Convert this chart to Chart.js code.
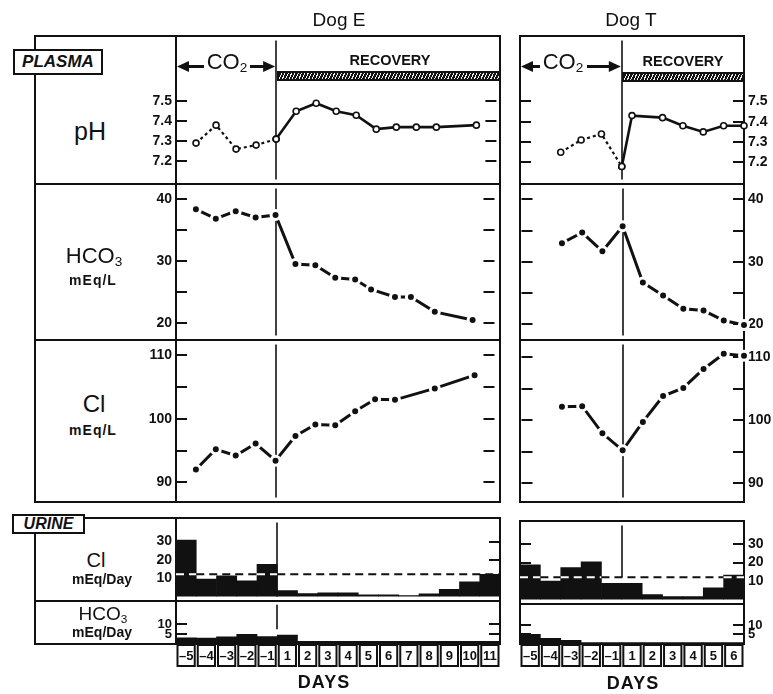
<!DOCTYPE html>
<html>
<head>
<meta charset="utf-8">
<title>Dog E / Dog T</title>
<script src="https://cdn.jsdelivr.net/npm/chart.js@4.4.1/dist/chart.umd.min.js"></script>
<style>
  body { margin: 0; background: #fff; }
  #fig { position: relative; width: 773px; height: 694px; overflow: hidden;
         font-family: 'Liberation Sans', Arial, Helvetica, sans-serif; color: #111; }
  .ln { position: absolute; background: #111; }
  canvas { position: absolute; }
  .t { position: absolute; transform: translate(-50%, -50%); white-space: nowrap; line-height: 1; }
  .tag { position: absolute; border: 2px solid #111; background: #fff; box-sizing: border-box;
         font-weight: bold; font-style: italic; text-align: center; }
  .hatch { position: absolute; box-sizing: border-box; border: 2px solid #111;
           background: repeating-linear-gradient(115deg, #111 0px, #111 2px, #eee 2px, #eee 3px); }
  sub { font-size: 62%; vertical-align: baseline; position: relative; top: 0.25em; }
</style>
</head>
<body>
<div id="fig"></div>
<script>
// ---- data ----
const daysE = ['-5', '-4', '-3', '-2', '-1', '1', '2', '3', '4', '5', '6', '7', '8', '9', '10', '11'];
const daysT = ['-5', '-4', '-3', '-2', '-1', '1', '2', '3', '4', '5', '6'];
const co2End = 5; // end of CO2 exposure (after day -1)

// plasma pH (t = position in day cells from the start of day -5)
const phPreE_t = [1, 2, 3, 4, 5];
const phPreE = [7.29, 7.38, 7.26, 7.28, 7.31];
const phRecE_t = [5, 6, 7, 8, 9, 10, 11, 12, 13, 15];
const phRecE = [7.31, 7.45, 7.49, 7.45, 7.43, 7.36, 7.37, 7.37, 7.37, 7.38];
const phPreT_t = [2, 3, 4, 5];
const phPreT = [7.25, 7.31, 7.34, 7.18];
const phRecT_t = [5, 5.5, 7, 8, 9, 10, 11];
const phRecT = [7.18, 7.43, 7.42, 7.38, 7.35, 7.38, 7.38];

// plasma HCO3, mEq/L
const hco3E_t = [1, 2, 3, 4, 5, 6, 7, 8, 9, 9.8, 11, 11.8, 13, 14.9];
const hco3E = [38.3, 36.8, 38.0, 37.0, 37.4, 29.5, 29.3, 27.3, 27.0, 25.4, 24.2, 24.2, 21.8, 20.5];
const hco3T_t = [2, 3, 4, 5, 6, 7, 8, 9, 10, 11];
const hco3T = [33.0, 34.7, 31.7, 35.7, 26.7, 24.6, 22.5, 22.2, 20.6, 19.9];

// plasma Cl, mEq/L
const clE_t = [1, 2, 3, 4, 5, 6, 7, 8, 9, 10, 11, 13, 15];
const clE = [92.0, 95.2, 94.2, 96.1, 93.4, 97.3, 99.1, 99.0, 101.2, 103.1, 103.0, 104.8, 106.9];
const clT_t = [2, 3, 4, 5, 6, 7, 8, 9, 10, 11];
const clT = [102.1, 102.2, 97.9, 95.2, 99.7, 103.8, 105.1, 108.1, 110.5, 110.2];

// urine, mEq/Day per day
const urClE = [30.9, 9.5, 11.4, 8.6, 17.6, 3.3, 1.6, 2.0, 2.0, 1.0, 1.0, 0.5, 1.5, 4.0, 8.1, 12.2];
const urClT = [18.8, 10.0, 17.2, 20.4, 8.8, 8.8, 2.7, 1.6, 1.6, 6.3, 13.2];
const urClRefE = 12.2;
const urClRefT = 12.0;
const urHco3E = [3.1, 3.0, 3.6, 4.9, 3.8, 4.6, 1.3, 1.3, 1.3, 1.3, 1.3, 1.3, 1.3, 1.3, 1.3, 1.3];
const urHco3T = [5.1, 3.0, 1.9, 0.7, 0.7, 0.7, 0.7, 0.7, 0.7, 0.7, 0.7];

// axis ticks
const phTicks = [7.2, 7.3, 7.4, 7.5];
const hco3Ticks = [20, 25, 30, 35, 40];
const hco3Labels = [20, 30, 40];
const clTicks = [90, 95, 100, 105, 110];
const clLabels = [90, 100, 110];
const urClTicks = [10, 20, 30];
const urHco3Ticks = [5, 10];

// ---- page furniture ----
const fig = document.getElementById('fig');
const FONT = "'Liberation Sans', Arial, Helvetica, sans-serif";
Chart.defaults.font.family = FONT;
Chart.defaults.color = '#111';

function line(x1, y1, x2, y2) {
  const d = document.createElement('div');
  d.className = 'ln';
  d.style.left = (x1 - 1) + 'px';
  d.style.top = (y1 - 1) + 'px';
  d.style.width = (x2 - x1 + 2) + 'px';
  d.style.height = (y2 - y1 + 2) + 'px';
  fig.appendChild(d);
}
function text(html, x, y, style) {
  const d = document.createElement('div');
  d.className = 't';
  d.innerHTML = html;
  d.style.left = x + 'px';
  d.style.top = y + 'px';
  Object.assign(d.style, style || {});
  fig.appendChild(d);
}
function addCanvas(left, top, w, h) {
  const c = document.createElement('canvas');
  c.width = w; c.height = h;
  c.style.left = left + 'px'; c.style.top = top + 'px';
  fig.appendChild(c);
  return c;
}

// plasma frame
[36, 184, 340, 502].forEach(y => { line(35, y, 500, y); line(520, y, 744, y); });
[35, 176, 500].forEach(x => line(x, 36, x, 502));
[520, 744].forEach(x => line(x, 36, x, 502));
// urine frame
[518, 601, 644].forEach(y => line(35, y, 500, y));
[35, 176, 500].forEach(x => line(x, 518, x, 644));
[521, 604, 644].forEach(y => line(520, y, 744, y));
[520, 744].forEach(x => line(x, 521, x, 644));

// ---- chart helpers ----
const framePlugin = {
  id: 'frame',
  beforeDatasetsDraw(chart, args, opts) {
    const { ctx, chartArea: a, scales: { x, y } } = chart;
    ctx.save();
    ctx.strokeStyle = '#111';
    ctx.fillStyle = '#111';
    ctx.lineWidth = 2;
    ctx.beginPath();
    for (const t of y.ticks) {
      const py = Math.round(y.getPixelForValue(t.value));
      ctx.moveTo(a.left, py); ctx.lineTo(a.left + 11, py);
      ctx.moveTo(a.right - 11, py); ctx.lineTo(a.right, py);
    }
    ctx.stroke();
    if (opts.divider) {
      const px = Math.round(x.getPixelForValue(co2End));
      const bot = opts.dividerTo != null ? y.getPixelForValue(opts.dividerTo) : a.bottom;
      ctx.lineWidth = 1.6;
      ctx.beginPath(); ctx.moveTo(px, a.top); ctx.lineTo(px, bot); ctx.stroke();
    }
    if (opts.arrow) {
      const ay = a.top + opts.arrow.dy;
      const px = x.getPixelForValue(co2End);
      const l = a.left + opts.arrow.gap[0], r = a.left + opts.arrow.gap[1];
      ctx.lineWidth = 3;
      ctx.beginPath();
      ctx.moveTo(a.left + 8, ay); ctx.lineTo(l, ay);
      ctx.moveTo(r, ay); ctx.lineTo(px - 8, ay);
      ctx.stroke();
      const head = (tip, dir) => {
        ctx.beginPath();
        ctx.moveTo(tip, ay);
        ctx.lineTo(tip + dir * 12, ay - 5.5);
        ctx.lineTo(tip + dir * 12, ay + 5.5);
        ctx.closePath(); ctx.fill();
      };
      head(a.left + 1, 1);
      head(px - 1, -1);
    }
    ctx.restore();
  }
};

const dayCells = {
  id: 'dayCells',
  afterDraw(chart) {
    const { ctx, chartArea: a, scales: { x } } = chart;
    ctx.save();
    ctx.strokeStyle = '#111';
    ctx.lineWidth = 2;
    for (let i = 0; i < x.max; i++) {
      const l = x.getPixelForValue(i), r = x.getPixelForValue(i + 1);
      ctx.strokeRect(l + 1.5, a.bottom + 1, r - l - 3, 21);
    }
    ctx.restore();
  }
};

const dogE = { left: 130, width: 372, padL: 0, padR: 2, yPos: 'left', yW: 46, days: daysE };
const dogT = { left: 514, width: 259, padL: 6, padR: 0, yPos: 'right', yW: 29, days: daysT };

function yAxis(dog, min, max, ticks, labels, fmt, size) {
  return {
    position: dog.yPos, min, max,
    afterBuildTicks: s => { s.ticks = ticks.map(v => ({ value: v })); },
    afterFit: s => { s.width = dog.yW; },
    grid: { display: false, drawTicks: false }, border: { display: false },
    ticks: {
      autoSkip: false, padding: 4, color: '#111',
      font: { size: size || 14, weight: 'bold' },
      callback: v => labels.includes(v) ? fmt(v) : ''
    }
  };
}

const pts = (ts, vs) => ts.map((t, i) => ({ x: t, y: vs[i] }));
const dotLine = { borderColor: '#111', borderWidth: 3, pointRadius: 4.5, pointBackgroundColor: '#111',
                  pointBorderColor: '#fff', pointBorderWidth: 3, clip: false };
const phPre = { borderColor: '#111', borderWidth: 2.2, borderDash: [3, 3], pointRadius: 3,
                pointBackgroundColor: '#fff', pointBorderColor: '#111', pointBorderWidth: 1.6, clip: false };
const phRec = { borderColor: '#111', borderWidth: 2.6, pointRadius: 3,
                pointBackgroundColor: '#fff', pointBorderColor: '#111', pointBorderWidth: 1.6, clip: false };

function plasmaChart(dog, top, bottom, yOpts, datasets, frame) {
  const c = addCanvas(dog.left, top - 8, dog.width, bottom - top + 16);
  return new Chart(c, {
    type: 'line',
    data: { datasets },
    options: {
      responsive: false, animation: false, events: [],
      layout: { padding: { left: dog.padL, right: dog.padR, top: 8, bottom: 8 } },
      scales: {
        x: { type: 'linear', min: 0, max: dog.days.length, display: false, offset: false },
        y: yOpts
      },
      plugins: { legend: { display: false }, tooltip: { enabled: false }, frame }
    },
    plugins: [framePlugin]
  });
}

function urineChart(dog, top, bottom, yOpts, bars, ref, frame, withDays) {
  const c = addCanvas(dog.left, top - 8, dog.width, bottom - top + 8 + (withDays ? 26 : 8));
  const datasets = [{
    type: 'bar', data: bars.map((v, i) => ({ x: i + 0.5, y: v })),
    backgroundColor: '#111', borderWidth: 0, barPercentage: 1, categoryPercentage: 1, order: 1
  }];
  if (ref != null) {
    datasets.push({
      type: 'line', data: dog.days.concat(['']).map((d, i) => ({ x: i, y: ref })),
      borderWidth: 2, borderDash: [8, 5], pointRadius: 0, order: 0, clip: false,
      segment: { borderColor: s => bars[s.p0DataIndex] > ref ? '#fff' : '#111' }
    });
  }
  const xAxis = {
    type: 'linear', min: 0, max: dog.days.length, offset: false, display: !!withDays,
    position: 'bottom', grid: { display: false, drawTicks: false }, border: { display: false }
  };
  if (withDays) {
    Object.assign(xAxis, {
      afterBuildTicks: s => { s.ticks = dog.days.map((d, i) => ({ value: i + 0.5 })); },
      afterFit: s => { s.height = 26; },
      ticks: { autoSkip: false, maxRotation: 0, padding: 5, color: '#111',
               font: { size: 13, weight: 'bold' },
               callback: (v, i) => dog.days[i].replace('-', '\u2013') }
    });
  }
  return new Chart(c, {
    type: 'bar',
    data: { datasets },
    options: {
      responsive: false, animation: false, events: [],
      layout: { padding: { left: dog.padL, right: dog.padR, top: 8, bottom: withDays ? 0 : 8 } },
      scales: { x: xAxis, y: yOpts },
      plugins: { legend: { display: false }, tooltip: { enabled: false }, frame }
    },
    plugins: withDays ? [framePlugin, dayCells] : [framePlugin]
  });
}

const f1 = v => v.toFixed(1);
const f0 = v => String(v);

// ---- Dog E ----
plasmaChart(dogE, 36, 184, yAxis(dogE, 7.107, 7.805, phTicks, phTicks, f1),
  [Object.assign({ data: pts(phPreE_t, phPreE) }, phPre), Object.assign({ data: pts(phRecE_t, phRecE) }, phRec)],
  { divider: true, arrow: { dy: 26, gap: [28, 74] } });
plasmaChart(dogE, 184, 340, yAxis(dogE, 17.98, 41.67, hco3Ticks, hco3Labels, f0),
  [Object.assign({ data: pts(hco3E_t, hco3E) }, dotLine)], { divider: true });
plasmaChart(dogE, 340, 502, yAxis(dogE, 87.57, 111.75, clTicks, clLabels, f0),
  [Object.assign({ data: pts(clE_t, clE) }, dotLine)], { divider: true });
urineChart(dogE, 518, 601, yAxis(dogE, 0, 40.5, urClTicks, urClTicks, f0), urClE, urClRefE, { divider: true });
urineChart(dogE, 601, 644, yAxis(dogE, 0, 20, urHco3Ticks, urHco3Ticks, f0, 13), urHco3E, null,
  { divider: true, dividerTo: 7.5 }, true);

// ---- Dog T ----
plasmaChart(dogT, 36, 184, yAxis(dogT, 7.116, 7.799, phTicks, phTicks, f1),
  [Object.assign({ data: pts(phPreT_t, phPreT) }, phPre), Object.assign({ data: pts(phRecT_t, phRecT) }, phRec)],
  { divider: true, arrow: { dy: 26, gap: [20, 67] } });
plasmaChart(dogT, 184, 340, yAxis(dogT, 18.19, 41.77, hco3Ticks, hco3Labels, f0),
  [Object.assign({ data: pts(hco3T_t, hco3T) }, dotLine)], { divider: true });
plasmaChart(dogT, 340, 502, yAxis(dogT, 87.7, 112.0, clTicks, clLabels, f0),
  [Object.assign({ data: pts(clT_t, clT) }, dotLine)], { divider: true });
urineChart(dogT, 521, 604, yAxis(dogT, 0, 40, urClTicks, urClTicks, f0), urClT, urClRefT,
  { divider: true, dividerTo: urClRefT });
urineChart(dogT, 604, 644, yAxis(dogT, 0, 19, urHco3Ticks, urHco3Ticks, f0, 13), urHco3T, null, {}, true);

// ---- labels and overlays ----
function tag(label, left, top, w, h, size) {
  const d = document.createElement('div');
  d.className = 'tag';
  d.textContent = label;
  Object.assign(d.style, { left: left + 'px', top: top + 'px', width: w + 'px', height: h + 'px',
                           fontSize: size + 'px', lineHeight: (h - 4) + 'px' });
  fig.appendChild(d);
}
function hatch(left, top, w, h) {
  const d = document.createElement('div');
  d.className = 'hatch';
  Object.assign(d.style, { left: left + 'px', top: top + 'px', width: w + 'px', height: h + 'px' });
  fig.appendChild(d);
}

tag('PLASMA', 13, 49, 90, 26, 17);
tag('URINE', 12, 514, 73, 20, 16);
hatch(277, 71, 224, 10);
hatch(622, 72, 123, 10);

text('Dog E', 339, 19, { fontSize: '19px' });
text('Dog T', 631, 19, { fontSize: '19px' });
text('RECOVERY', 390, 60, { fontSize: '14.5px', fontWeight: 'bold' });
text('RECOVERY', 683, 61, { fontSize: '14.5px', fontWeight: 'bold' });
text('CO<sub>2</sub>', 227, 62, { fontSize: '22px' });
text('CO<sub>2</sub>', 563, 62, { fontSize: '22px' });

text('pH', 90, 131, { fontSize: '25px' });
text('HCO<sub>3</sub>', 94, 256, { fontSize: '22px' });
text('mEq/L', 93, 280, { fontSize: '14px', fontWeight: 'bold', letterSpacing: '1px' });
text('Cl', 94, 404, { fontSize: '24px' });
text('mEq/L', 93, 430, { fontSize: '14px', fontWeight: 'bold', letterSpacing: '1px' });
text('Cl', 96, 560, { fontSize: '20px' });
text('mEq/Day', 102, 579, { fontSize: '14px', fontWeight: 'bold' });
text('HCO<sub>3</sub>', 103, 613, { fontSize: '19px' });
text('mEq/Day', 102, 632, { fontSize: '14px', fontWeight: 'bold' });
text('DAYS', 324, 682, { fontSize: '18px', fontWeight: 'bold', letterSpacing: '1px' });
text('DAYS', 633, 683, { fontSize: '18px', fontWeight: 'bold', letterSpacing: '1px' });
</script>
</body>
</html>
